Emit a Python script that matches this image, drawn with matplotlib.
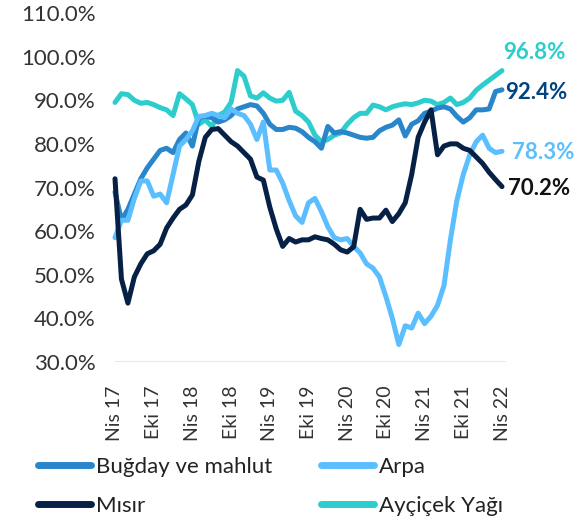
import matplotlib.pyplot as plt
from matplotlib.lines import Line2D

# monthly data, Nis 17 -> Nis 22 (61 months)
bugday = [69.0, 62.5, 65.0, 68.5, 72.0, 74.5, 76.5, 78.5, 79.0, 78.0,
          81.0, 82.5, 79.5, 86.0, 86.3, 86.0, 85.0, 85.5, 86.5, 88.0,
          88.5, 89.0, 88.7, 87.0, 84.5, 83.3, 83.3, 83.8, 83.6, 82.8,
          81.5, 80.5, 79.0, 84.0, 82.5, 82.8, 82.5, 82.0, 81.5, 81.3,
          81.5, 83.0, 83.8, 84.3, 85.5, 81.8, 84.5, 85.3, 87.0, 87.5,
          88.2, 88.5, 88.0, 86.3, 85.0, 86.0, 87.8, 87.8, 88.0, 92.0,
          92.4]
arpa = [58.5, 62.5, 62.5, 67.5, 71.5, 71.5, 68.0, 68.5, 66.5, 73.0,
        79.5, 81.0, 83.0, 86.3, 86.5, 87.0, 86.5, 86.0, 88.0, 87.0,
        86.5, 84.5, 81.0, 85.0, 74.0, 74.0, 71.0, 67.0, 63.5, 62.0,
        66.5, 67.5, 64.5, 61.0, 58.5, 58.0, 58.3, 56.5, 55.0, 52.5,
        51.5, 49.5, 45.0, 40.0, 34.0, 38.3, 37.8, 41.2, 38.8, 40.5,
        43.0, 47.5, 58.0, 67.0, 73.0, 77.5, 80.5, 82.0, 79.0, 78.0,
        78.3]
misir = [72.0, 49.0, 43.5, 49.5, 52.5, 54.8, 55.5, 57.0, 60.7, 63.0,
         65.0, 66.0, 68.3, 76.0, 81.5, 83.3, 83.5, 82.0, 80.5, 79.5,
         78.0, 76.5, 72.4, 71.7, 65.5, 60.5, 56.5, 58.3, 57.5, 58.0,
         58.0, 58.7, 58.3, 58.0, 57.0, 55.7, 55.2, 56.4, 65.0, 62.7,
         63.0, 63.0, 64.8, 62.2, 64.0, 66.5, 73.0, 81.5, 85.0, 87.8,
         77.5, 79.5, 80.0, 80.0, 79.0, 78.5, 77.0, 75.5, 73.5, 71.8,
         70.2]
aycicek = [89.5, 91.5, 91.3, 90.0, 89.3, 89.5, 89.0, 88.3, 87.8, 86.5,
           91.5, 90.3, 89.0, 84.5, 85.5, 84.0, 86.5, 87.3, 89.5, 96.8,
           95.5, 91.0, 90.5, 91.7, 90.5, 89.8, 90.0, 91.8, 87.5, 86.5,
           85.0, 82.0, 80.5, 81.0, 82.0, 82.5, 84.5, 86.0, 87.0, 87.0,
           88.9, 88.5, 87.8, 88.5, 88.9, 89.2, 89.0, 89.4, 90.0, 89.8,
           89.0, 89.5, 90.5, 89.0, 89.5, 90.5, 92.3, 93.5, 94.6, 95.7,
           96.8]

tick_labels = ['Nis 17', 'Eki 17', 'Nis 18', 'Eki 18', 'Nis 19', 'Eki 19',
               'Nis 20', 'Eki 20', 'Nis 21', 'Eki 21', 'Nis 22']

c_bugday = '#2a86ca'
c_arpa = '#5bbeff'
c_misir = '#072146'
c_aycicek = '#2dcccd'

plt.rcParams['font.family'] = ['Lato', 'DejaVu Sans']

fig = plt.figure(figsize=(5.83, 5.21), dpi=100)
ax = fig.add_axes([115/583, 1 - 362/521, (506 - 115)/583, (362 - 13)/521])

x = list(range(len(bugday)))
style = dict(lw=3.6, solid_joinstyle='round', solid_capstyle='round', clip_on=False)
ax.plot(x, aycicek, color=c_aycicek, **style)
ax.plot(x, bugday, color=c_bugday, **style)
ax.plot(x, arpa, color=c_arpa, **style)
ax.plot(x, misir, color=c_misir, **style)

# light base line at 30%
ax.axhline(30, color='#d4ebfc', lw=2, zorder=0)

ax.set_xlim(0, 60.62)
ax.set_ylim(30, 110)
ax.set_yticks(range(30, 111, 10))
ax.set_yticklabels(['%.1f%%' % v for v in range(30, 111, 10)])
ax.set_xticks(range(0, 61, 6))
ax.set_xticklabels(tick_labels, rotation=90, va='top', ha='center')
ax.tick_params(axis='y', length=0, pad=14, labelsize=16, labelcolor='#333333')
ax.tick_params(axis='x', length=0, pad=17, labelsize=14, labelcolor='#333333')
for s in ax.spines.values():
    s.set_visible(False)

# end value labels
ends = [(aycicek[-1], c_aycicek, 1, 13),
        (bugday[-1], '#004481', 2, -2),
        (arpa[-1], c_arpa, 7, -1),
        (misir[-1], '#121212', 4, -1)]
for val, col, dx, dy in ends:
    ax.annotate('%.1f%%' % val, xy=(60, val), xytext=(dx, dy),
                textcoords='offset points', color=col, fontsize=16,
                fontweight='bold', va='center', ha='left', annotation_clip=False)

# legend under the chart
handles = [Line2D([], [], color=c_bugday, lw=5, solid_capstyle='round'),
           Line2D([], [], color=c_misir, lw=5, solid_capstyle='round'),
           Line2D([], [], color=c_arpa, lw=5, solid_capstyle='round'),
           Line2D([], [], color=c_aycicek, lw=5, solid_capstyle='round')]
labels = ['Buğday ve mahlut', 'Mısır', 'Arpa', 'Ayçiçek Yağı']
fig.legend(handles, labels, ncol=2, loc='upper left',
           bbox_to_anchor=(38/583, 1 - 457/521), frameon=False,
           fontsize=16, handlelength=2.4, handletextpad=0.2,
           columnspacing=2.2, labelspacing=0.85, borderpad=0, borderaxespad=0,
           labelcolor='#222222')

plt.savefig('out.png', dpi=100)
